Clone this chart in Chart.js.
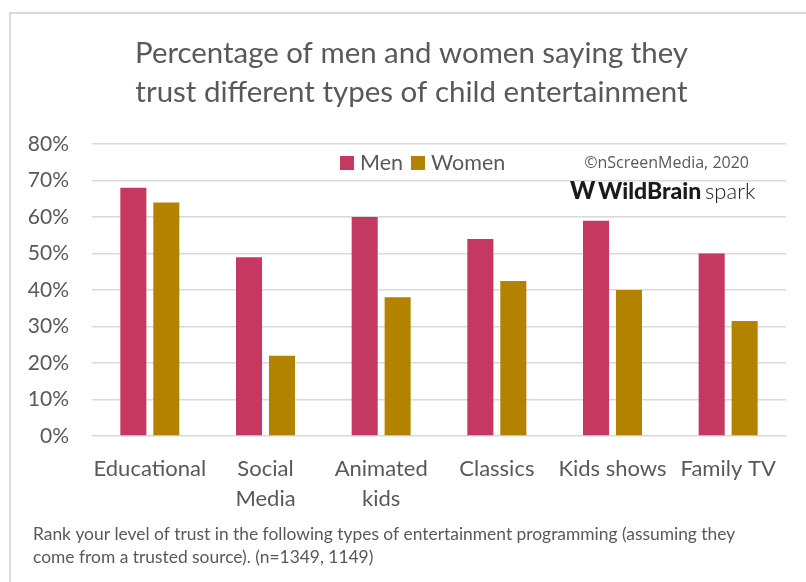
<!DOCTYPE html>
<html>
<head>
<meta charset="utf-8">
<title>Trust in child entertainment</title>
<script src="https://cdn.jsdelivr.net/npm/chart.js@4.4.1/dist/chart.umd.min.js"></script>
<style>
  html, body { margin: 0; padding: 0; background: #fff; }
  canvas { display: block; }
</style>
</head>
<body>
<canvas id="trustChart" width="806" height="582"></canvas>
<script>
// Chart data
const categories = [['Educational'], ['Social', 'Media'], ['Animated', 'kids'], ['Classics'], ['Kids shows'], ['Family TV']];
const seriesNames = ['Men', 'Women'];
const menValues = [68, 49, 60, 54, 59, 50];
const womenValues = [64, 22, 38, 42.5, 40, 31.5];
const yMax = 80;
const yStep = 10;

// Texts
const titleLines = ['Percentage of men and women saying they', 'trust different types of child entertainment'];
const footnoteLines = [
    'Rank your level of trust in the following types of entertainment programming (assuming they',
    'come from a trusted source). (n=1349, 1149)'
];
const copyrightText = '\u00A9nScreenMedia, 2020';

const MEN_COLOR = '#C43862';
const WOMEN_COLOR = '#B38300';
const TEXT_GRAY = '#595959';

document.addEventListener('DOMContentLoaded', () => {
    // Frame, title, legend, watermark and footnote
    const decorPlugin = {
        id: 'decor',
        beforeDraw(chart) {
            const c = chart.ctx;
            c.save();
            c.fillStyle = '#fff';
            c.fillRect(0, 0, chart.width, chart.height);
            c.strokeStyle = '#d9d9d9';
            c.lineWidth = 2;
            c.beginPath();
            c.moveTo(10, chart.height);
            c.lineTo(10, 13);
            c.lineTo(chart.width, 13);
            c.stroke();
            c.restore();
        },
        afterDraw(chart) {
            const c = chart.ctx;
            c.save();

            // title
            c.fillStyle = TEXT_GRAY;
            c.textAlign = 'center';
            c.textBaseline = 'alphabetic';
            c.font = '29.5px Lato';
            c.fillText(titleLines[0], 411.5, 63, 553);
            c.fillText(titleLines[1], 411.5, 102, 553);

            // legend
            c.textAlign = 'left';
            c.font = '21.5px Lato';
            let x = 340;
            chart.data.datasets.forEach(ds => {
                c.fillStyle = ds.backgroundColor;
                c.fillRect(x, 156, 14, 14);
                c.fillStyle = TEXT_GRAY;
                c.fillText(ds.label, x + 20, 170);
                x += 20 + c.measureText(ds.label).width + 8;
            });

            // copyright
            c.textAlign = 'right';
            c.font = '16px "Open Sans"';
            c.fillText(copyrightText, 749, 168, 171);

            // WildBrain spark logo
            c.textAlign = 'left';
            c.fillStyle = '#1a1a1a';
            c.font = '900 24px Lato';
            c.fillText('W', 570, 199, 27);
            c.font = '900 23px Lato';
            c.fillText('WildBrain', 598, 199, 104);
            c.font = '300 22px Lato';
            c.fillText('spark', 705, 199, 53);

            // footnote
            c.fillStyle = TEXT_GRAY;
            c.font = '17.4px Lato';
            c.fillText(footnoteLines[0], 33, 540, 703);
            c.fillText(footnoteLines[1], 33, 563);

            c.restore();
        }
    };

    const ctx = document.getElementById('trustChart').getContext('2d');
    new Chart(ctx, {
        type: 'bar',
        data: {
            labels: categories,
            datasets: [
                {
                    label: seriesNames[0],
                    data: menValues,
                    backgroundColor: MEN_COLOR,
                    barPercentage: 0.79,
                    categoryPercentage: 0.57
                },
                {
                    label: seriesNames[1],
                    data: womenValues,
                    backgroundColor: WOMEN_COLOR,
                    barPercentage: 0.79,
                    categoryPercentage: 0.57
                }
            ]
        },
        options: {
            responsive: false,
            animation: false,
            devicePixelRatio: 1,
            layout: {
                padding: { left: 0, right: 20, top: 144, bottom: 66 }
            },
            plugins: {
                legend: { display: false },
                title: { display: false },
                tooltip: { enabled: false }
            },
            scales: {
                x: {
                    grid: { display: false },
                    border: { display: false },
                    ticks: {
                        color: TEXT_GRAY,
                        font: { family: 'Lato', size: 22, lineHeight: 1.36 },
                        padding: 10,
                        maxRotation: 0,
                        autoSkip: false
                    },
                    afterFit(scale) { scale.height = 80; }
                },
                y: {
                    min: 0,
                    max: yMax,
                    grid: { color: '#d9d9d9', lineWidth: 1.5, drawTicks: false },
                    border: { display: false },
                    ticks: {
                        stepSize: yStep,
                        color: TEXT_GRAY,
                        font: { family: 'Lato', size: 21 },
                        padding: 23,
                        callback: v => v + '%'
                    },
                    afterFit(scale) { scale.width = 92; }
                }
            }
        },
        plugins: [decorPlugin]
    });
});
</script>
</body>
</html>
